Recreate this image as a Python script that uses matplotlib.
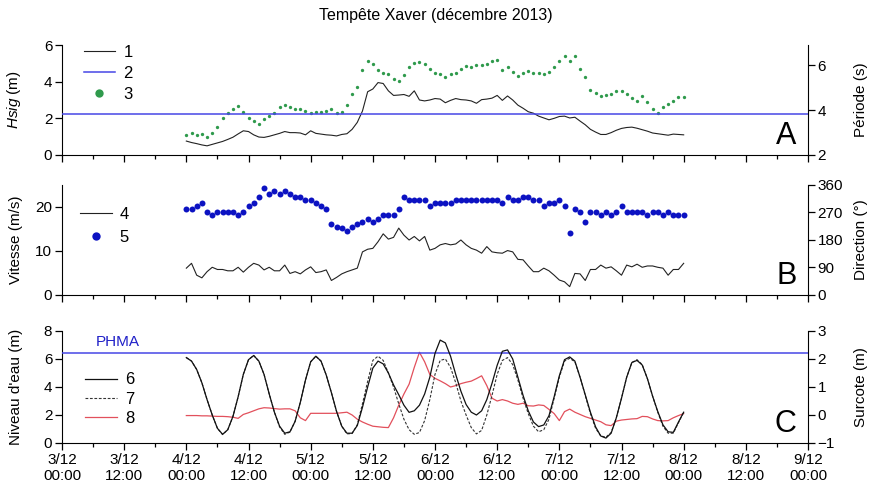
import numpy as np
import matplotlib
matplotlib.use('Agg')
import matplotlib.pyplot as plt
from matplotlib.lines import Line2D
import matplotlib.transforms as mtransforms

plt.rcParams['font.family'] = ['Liberation Sans', 'DejaVu Sans']
plt.rcParams['mathtext.fontset'] = 'custom'
plt.rcParams['mathtext.it'] = 'Liberation Sans:italic'
plt.rcParams['mathtext.rm'] = 'Liberation Sans'

# time axis: hours since 3/12 00:00, hourly data from 4/12 00:00 to 8/12 00:00
hours = np.arange(24, 121)
tick_hours = list(range(0, 145, 12))
tick_labels = ['3/12\n00:00', '3/12\n12:00', '4/12\n00:00', '4/12\n12:00', '5/12\n00:00',
               '5/12\n12:00', '6/12\n00:00', '6/12\n12:00', '7/12\n00:00', '7/12\n12:00',
               '8/12\n00:00', '8/12\n12:00', '9/12\n00:00']

# panel A
hsig = [0.76, 0.68, 0.62, 0.55, 0.50, 0.58, 0.66, 0.74, 0.85, 0.97,
        1.15, 1.32, 1.28, 1.10, 0.98, 0.96, 1.02, 1.10, 1.18, 1.28,
        1.22, 1.22, 1.20, 1.10, 1.32, 1.18, 1.14, 1.10, 1.08, 1.04,
        1.12, 1.16, 1.40, 1.78, 2.40, 3.45, 3.60, 3.95, 3.90, 3.50,
        3.25, 3.27, 3.30, 3.20, 3.50, 3.00, 2.95, 3.00, 3.08, 3.05,
        2.85, 2.98, 3.08, 3.02, 3.00, 2.95, 2.82, 3.02, 3.05, 3.10,
        3.25, 2.98, 3.22, 3.00, 2.72, 2.55, 2.36, 2.28, 2.12, 2.02,
        1.92, 2.00, 2.10, 2.12, 2.02, 2.06, 1.85, 1.65, 1.40, 1.25,
        1.12, 1.12, 1.22, 1.35, 1.45, 1.50, 1.52, 1.46, 1.38, 1.30,
        1.20, 1.16, 1.12, 1.08, 1.14, 1.12, 1.10]
hsig_threshold = 2.24
period = [2.89, 2.96, 2.89, 2.93, 2.81, 2.96, 3.23, 3.63, 3.88, 4.07,
          4.18, 3.93, 3.63, 3.51, 3.38, 3.59, 3.73, 3.88, 4.15, 4.22,
          4.15, 4.07, 4.03, 3.96, 3.85, 3.91, 3.93, 3.96, 4.04, 3.85,
          3.90, 4.22, 4.71, 5.04, 5.78, 6.19, 6.07, 5.78, 5.67, 5.60,
          5.38, 5.30, 5.56, 5.90, 6.10, 6.13, 6.04, 5.85, 5.67, 5.59,
          5.46, 5.59, 5.67, 5.81, 5.96, 5.93, 6.01, 5.99, 6.07, 6.18,
          6.25, 5.78, 5.90, 5.69, 5.54, 5.67, 5.72, 5.64, 5.66, 5.60,
          5.69, 5.90, 6.19, 6.40, 6.19, 6.40, 5.85, 5.48, 4.89, 4.77,
          4.62, 4.67, 4.73, 4.87, 4.84, 4.73, 4.56, 4.41, 4.62, 4.37,
          4.05, 3.88, 4.15, 4.25, 4.41, 4.59, 4.59]

# panel B
speed = [6.1, 7.2, 4.5, 3.9, 5.3, 6.3, 5.8, 5.8, 5.5, 5.5,
         6.3, 5.2, 6.3, 7.2, 6.8, 5.7, 6.3, 5.5, 5.5, 6.8,
         4.9, 5.3, 4.8, 5.7, 6.4, 5.1, 5.3, 5.7, 3.3, 4.0,
         4.8, 5.3, 5.7, 6.1, 9.8, 10.4, 10.6, 12.1, 13.9, 12.7,
         13.1, 15.2, 13.6, 12.5, 13.3, 12.3, 13.3, 10.2, 10.6, 11.4,
         11.7, 11.4, 11.6, 12.5, 11.4, 10.6, 10.2, 9.5, 11.0, 9.8,
         9.6, 9.5, 10.1, 9.8, 8.1, 8.0, 6.6, 5.3, 5.3, 6.1,
         5.5, 4.5, 3.4, 3.0, 1.9, 4.9, 4.8, 3.3, 5.8, 5.8,
         6.8, 6.1, 6.4, 5.5, 4.5, 6.8, 6.4, 7.0, 6.3, 6.6,
         6.6, 6.3, 6.1, 4.5, 5.8, 5.8, 7.2]
direction = [280, 280, 291, 300, 271, 262, 271, 271, 271, 271,
             262, 271, 291, 300, 320, 349, 331, 340, 331, 341,
             331, 322, 322, 311, 311, 302, 292, 280, 231, 221,
             220, 209, 221, 231, 240, 250, 240, 250, 261, 261,
             261, 280, 322, 311, 311, 311, 311, 291, 300, 300,
             300, 300, 311, 311, 311, 311, 311, 311, 311, 311,
             311, 300, 322, 311, 311, 322, 322, 311, 311, 291,
             300, 300, 311, 291, 202, 280, 271, 240, 271, 271,
             262, 271, 262, 271, 291, 271, 271, 271, 271, 262,
             271, 271, 262, 271, 262, 262, 262]

# panel C
level_obs = [6.10, 5.85, 5.25, 4.30, 3.10, 2.00, 1.05, 0.62, 0.95, 1.90,
             3.30, 4.90, 5.95, 6.25, 5.85, 4.90, 3.50, 2.20, 1.20, 0.70,
             0.80, 1.55, 2.90, 4.50, 5.80, 6.20, 5.85, 4.86, 3.60, 2.25,
             1.20, 0.70, 0.70, 1.25, 2.55, 4.00, 5.35, 5.85, 5.65, 5.00,
             4.15, 3.45, 2.70, 2.19, 2.30, 2.70, 3.50, 4.70, 6.40, 7.35,
             7.15, 6.20, 4.90, 3.70, 2.75, 2.20, 2.00, 2.30, 3.10, 4.26,
             5.55, 6.55, 6.65, 6.00, 4.70, 3.40, 2.30, 1.50, 1.17, 1.29,
             1.95, 3.30, 4.80, 5.95, 6.15, 5.85, 4.70, 3.45, 2.20, 1.15,
             0.50, 0.35, 0.70, 1.80, 3.20, 4.70, 5.75, 5.90, 5.57, 4.60,
             3.35, 2.25, 1.30, 0.80, 0.76, 1.50, 2.20]
level_pred = [6.10, 5.85, 5.25, 4.30, 3.10, 2.00, 1.05, 0.60, 0.95, 1.90,
              3.30, 4.90, 5.95, 6.25, 5.85, 4.90, 3.50, 2.20, 1.15, 0.62,
              0.78, 1.55, 2.90, 4.50, 5.80, 6.20, 5.85, 4.86, 3.60, 2.25,
              1.20, 0.65, 0.68, 1.30, 2.80, 4.40, 5.90, 6.20, 5.90, 5.00,
              4.00, 2.80, 1.70, 0.95, 0.62, 0.75, 1.60, 3.10, 4.90, 5.90,
              6.00, 5.40, 4.30, 3.00, 2.00, 1.10, 0.65, 0.90, 2.00, 3.40,
              4.90, 5.90, 6.10, 5.60, 4.50, 3.20, 2.10, 1.20, 0.80, 0.95,
              1.70, 3.20, 4.70, 5.85, 6.05, 5.80, 4.70, 3.40, 2.10, 1.05,
              0.50, 0.42, 0.75, 1.80, 3.20, 4.70, 5.75, 5.95, 5.60, 4.60,
              3.35, 2.20, 1.20, 0.70, 0.70, 1.45, 2.20]
surge = [-0.02, -0.02, -0.02, -0.03, -0.03, -0.04, -0.05, -0.05, -0.06, -0.08,
         -0.12, 0.02, 0.08, 0.15, 0.22, 0.26, 0.25, 0.23, 0.21, 0.22,
         0.22, 0.15, -0.10, -0.20, 0.06, 0.06, 0.06, 0.06, 0.06, 0.06,
         0.08, 0.10, 0.00, -0.15, -0.25, -0.33, -0.40, -0.42, -0.44, -0.45,
         -0.10, 0.35, 0.75, 1.10, 1.70, 2.24, 1.90, 1.45, 1.31, 1.22,
         1.12, 1.00, 1.05, 1.12, 1.17, 1.21, 1.30, 1.40, 1.05, 0.60,
         0.50, 0.55, 0.50, 0.42, 0.38, 0.42, 0.33, 0.32, 0.36, 0.34,
         0.20, 0.05, -0.20, 0.12, 0.21, 0.10, 0.02, -0.06, -0.12, -0.18,
         -0.24, -0.35, -0.38, -0.22, -0.18, -0.16, -0.14, -0.13, -0.05, -0.06,
         -0.14, -0.20, -0.21, -0.20, -0.10, -0.02, 0.05]
phma = 6.4

GREEN = '#2f9a4c'
BLUE_DOT = '#0c12c2'
BLUE_LINE = '#4646e6'
RED = '#e2505c'
FS = 11

fig = plt.figure(figsize=(8.72, 4.92), dpi=100)
x0, w = 62 / 872, 746 / 872
axA = fig.add_axes([x0, 1 - 155 / 492, w, 110 / 492])
axB = fig.add_axes([x0, 1 - 295 / 492, w, 110 / 492])
axC = fig.add_axes([x0, 1 - 443 / 492, w, 112 / 492])


def style(ax, tw, show_x):
    ax.set_xlim(0, 144)
    ax.set_xticks(tick_hours)
    ax.set_xticks(range(6, 145, 12), minor=True)
    if show_x:
        ax.set_xticklabels(tick_labels, fontsize=FS)
    else:
        ax.set_xticklabels([])
    ax.spines['top'].set_visible(False)
    ax.spines['right'].set_visible(False)
    tw.spines['top'].set_visible(False)
    tw.spines['left'].set_visible(False)
    tw.spines['bottom'].set_visible(False)
    ax.tick_params(which='major', direction='out', length=5, width=0.9, labelsize=FS, pad=2)
    ax.tick_params(which='minor', direction='out', length=3, width=0.9)
    tw.tick_params(direction='out', length=5, width=0.9, labelsize=FS, pad=2)
    ax.yaxis.set_label_coords(-0.052, 0.5)
    tw.yaxis.set_label_coords(1.062, 0.5)


# A
twA = axA.twinx()
twA.plot(hours, period, 'o', color=GREEN, ms=2.4, mec='none', zorder=3)
axA.plot(hours, hsig, color='#222222', lw=0.8, zorder=4)
axA.axhline(hsig_threshold, color=BLUE_LINE, lw=1.1, zorder=4)
axA.set_zorder(twA.get_zorder() + 1)
axA.patch.set_visible(False)
axA.set_ylim(0, 6)
axA.set_yticks([0, 2, 4, 6])
twA.set_ylim(2, 6.9)
twA.set_yticks([2, 4, 6])
axA.set_ylabel(r'$\mathit{Hsig}$ (m)', fontsize=FS)
twA.set_ylabel('Période (s)', fontsize=FS)
style(axA, twA, False)
hA = [Line2D([], [], color='#222222', lw=0.8),
      Line2D([], [], color=BLUE_LINE, lw=1.1),
      Line2D([], [], ls='none', marker='o', color=GREEN, ms=6, mec='none')]
axA.legend(hA, ['1', '2', '3'], loc='upper left', bbox_to_anchor=(0.02, 1.06), frameon=False,
           fontsize=12, handlelength=1.9, handletextpad=0.5, labelspacing=0.35, borderaxespad=0)
axA.text(0.985, 0.04, 'A', transform=axA.transAxes, ha='right', va='bottom', fontsize=22)

# B
twB = axB.twinx()
twB.plot(hours, direction, 'o', color=BLUE_DOT, ms=4.3, mec='none', zorder=3)
axB.plot(hours, speed, color='#222222', lw=0.8, zorder=4)
axB.set_zorder(twB.get_zorder() + 1)
axB.patch.set_visible(False)
axB.set_ylim(0, 25)
axB.set_yticks([0, 10, 20])
twB.set_ylim(0, 360)
twB.set_yticks([0, 90, 180, 270, 360])
axB.set_ylabel('Vitesse (m/s)', fontsize=FS)
twB.set_ylabel('Direction (°)', fontsize=FS)
style(axB, twB, False)
hB = [Line2D([], [], color='#222222', lw=0.8),
      Line2D([], [], ls='none', marker='o', color=BLUE_DOT, ms=6, mec='none')]
axB.legend(hB, ['4', '5'], loc='upper left', bbox_to_anchor=(0.015, 0.86), frameon=False,
           fontsize=12, handlelength=1.9, handletextpad=0.5, labelspacing=0.45, borderaxespad=0)
axB.text(0.985, 0.04, 'B', transform=axB.transAxes, ha='right', va='bottom', fontsize=22)

# C
twC = axC.twinx()
twC.plot(hours, surge, color=RED, lw=0.9, zorder=3)
axC.plot(hours, level_pred, color='#333333', lw=0.8, ls=(0, (2.5, 1.5)), zorder=4)
axC.plot(hours, level_obs, color='#111111', lw=0.9, zorder=5)
axC.axhline(phma, color=BLUE_LINE, lw=1.1, zorder=4)
axC.set_zorder(twC.get_zorder() + 1)
axC.patch.set_visible(False)
axC.set_ylim(0, 8)
axC.set_yticks([0, 2, 4, 6, 8])
twC.set_ylim(-1, 3)
twC.set_yticks([-1, 0, 1, 2, 3])
axC.set_ylabel("Niveau d'eau (m)", fontsize=FS)
twC.set_ylabel('Surcote (m)', fontsize=FS)
style(axC, twC, True)
trans = mtransforms.blended_transform_factory(axC.transAxes, axC.transData)
axC.text(0.045, phma + 0.3, 'PHMA', transform=trans, color='#2020c8', fontsize=11, va='bottom')
hC = [Line2D([], [], color='#111111', lw=0.9),
      Line2D([], [], color='#333333', lw=0.8, ls=(0, (2.5, 1.5))),
      Line2D([], [], color=RED, lw=0.9)]
axC.legend(hC, ['6', '7', '8'], loc='upper left', bbox_to_anchor=(0.022, 0.69), frameon=False,
           fontsize=12, handlelength=1.9, handletextpad=0.5, labelspacing=0.25, borderaxespad=0)
axC.text(0.985, 0.04, 'C', transform=axC.transAxes, ha='right', va='bottom', fontsize=22)

fig.text(0.5, 0.968, 'Tempête Xaver (décembre 2013)', ha='center', va='center', fontsize=11.5)

fig.savefig('out.png', dpi=100)
